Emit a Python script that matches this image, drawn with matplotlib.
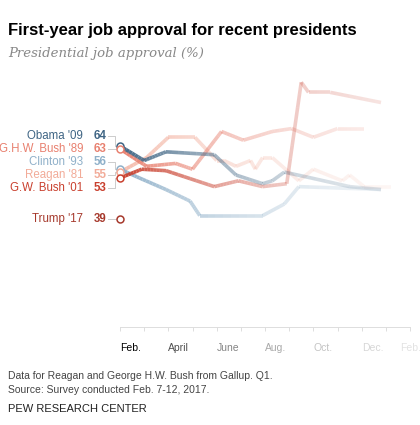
import numpy as np
import matplotlib
matplotlib.use("Agg")
import matplotlib.pyplot as plt
from matplotlib.collections import LineCollection
from matplotlib.colors import to_rgba

plt.rcParams['font.family'] = ['Liberation Sans', 'DejaVu Sans']

# months since Feb. 1 of first year, approval %
obama_x = [0, 1, 1.9, 3.9, 4.8, 5.9, 6.3, 6.8, 7.9, 9.5, 10.8]
obama_y = [64, 59, 62, 61, 54, 51, 52, 55, 53, 50, 49]
ghw_x = [0, 1.1, 2.3, 3.0, 4.2, 5.1, 6.3, 7.1, 8.0, 9.0, 10.1]
ghw_y = [63, 57, 58, 56, 69, 66, 69, 70, 67, 70, 70]
clinton_x = [0, 0.8, 1.9, 2.9, 3.3, 5.9, 6.8, 7.4, 10.8]
clinton_y = [56, 53, 49, 45, 40, 40, 44, 50, 49]
reagan_x = [0, 1.1, 2.0, 3.1, 4.0, 4.3, 4.8, 5.4, 5.6, 5.9, 6.3, 7.4, 8.0, 8.9, 9.2, 9.5, 10.1, 11.2]
reagan_y = [55, 60, 67, 67, 59, 59, 57, 59, 56, 60, 60, 52, 56, 53, 52, 54, 50, 50]
gwb_x = [0, 0.9, 1.9, 3.9, 4.9, 5.9, 6.9, 7.5, 7.8, 8.7, 10.8]
gwb_y = [53, 56, 55.5, 50, 52, 50, 51, 86, 82.5, 82.5, 79]
trump_y = 39

names = ["Obama '09", "G.H.W. Bush '89", "Clinton '93", "Reagan '81", "G.W. Bush '01", "Trump '17"]
starts = [64, 63, 56, 55, 53, 39]
colors = ["#3f6584", "#e8806f", "#8fb0c9", "#f2ab98", "#c9402e", "#a6392c"]
label_y = [67.4, 63, 58.5, 54, 49.5, 39]
month_ticks = np.arange(0, 13)
month_labels = {0: "Feb.", 2: "April", 4: "June", 6: "Aug.", 8: "Oct.", 10: "Dec.", 12: "Feb."}

W, H = 420, 425
fig = plt.figure(figsize=(W / 100, H / 100), dpi=100)
ax = fig.add_axes([120 / W, 1 - 327 / H, 290 / W, (327 - 70.6) / H])
ax.set_xlim(0, 12)
ax.set_ylim(1.6, 90)
for s in ['top', 'right', 'left']:
    ax.spines[s].set_visible(False)
ax.spines['bottom'].set_color('#dddddd')
ax.spines['bottom'].set_linewidth(0.7)
ax.set_yticks([])
ax.set_xticks(month_ticks)
ax.set_xticklabels([])
ax.tick_params(axis='x', length=3, color='#dddddd', width=0.7)


def fade(x):
    return max(0.07, np.exp(-x / 5.5))


for m, lab in month_labels.items():
    xm = m if m < 12 else 11.6
    ax.text(xm, -4, lab, ha='left', va='top', fontsize=7.5, color='black', alpha=fade(m),
            clip_on=False)


def fade_line(xs, ys, color, a0):
    xs = np.asarray(xs, float)
    ys = np.asarray(ys, float)
    segs, cols = [], []
    for i in range(len(xs) - 1):
        n = 8
        t = np.linspace(0, 1, n + 1)
        px = xs[i] + (xs[i + 1] - xs[i]) * t
        py = ys[i] + (ys[i + 1] - ys[i]) * t
        for j in range(n):
            segs.append([(px[j], py[j]), (px[j + 1], py[j + 1])])
            cols.append(to_rgba(color, a0 * fade((px[j] + px[j + 1]) / 2)))
    lc = LineCollection(segs, colors=cols, linewidths=2.6, capstyle='butt', joinstyle='miter')
    ax.add_collection(lc)


series = [(reagan_x, reagan_y, colors[3], 0.8), (clinton_x, clinton_y, colors[2], 1.0),
          (ghw_x, ghw_y, colors[1], 1.0), (gwb_x, gwb_y, colors[4], 1.0),
          (obama_x, obama_y, colors[0], 1.0)]
for xs, ys, c, a0 in series:
    fade_line(xs, ys, c, a0)

for name, v, c, ly in zip(names, starts, colors, label_y):
    ax.text(-1.53, ly, name, ha='right', va='center', fontsize=8.3, color=c, clip_on=False)
    ax.text(-0.55, ly, str(v), ha='right', va='center', fontsize=8.3, color=c,
            fontweight='bold', clip_on=False)
    ax.plot([-0.48, -0.2, -0.2, -0.08], [ly, ly, v, v], color='#cccccc', lw=0.7, clip_on=False)
    ax.plot([0], [v], 'o', ms=5, mfc='white', mec=c, mew=1.1, clip_on=False, zorder=5)

fig.text(8 / W, 1 - 30 / H, "First-year job approval for recent presidents", fontsize=12,
         fontweight='bold', va='center')
fig.text(8 / W, 1 - 53 / H, "Presidential job approval (%)", fontsize=9.5, style='italic',
         color='#888888', va='center', family='DejaVu Serif')
fig.text(8 / W, 1 - 376 / H, "Data for Reagan and George H.W. Bush from Gallup. Q1.", fontsize=7.5,
         color='#444444', va='center')
fig.text(8 / W, 1 - 390 / H, "Source: Survey conducted Feb. 7-12, 2017.", fontsize=7.5,
         color='#444444', va='center')
fig.text(8 / W, 1 - 409 / H, "PEW RESEARCH CENTER", fontsize=8, color='#222222', va='center')

fig.savefig("out.png", dpi=100)
